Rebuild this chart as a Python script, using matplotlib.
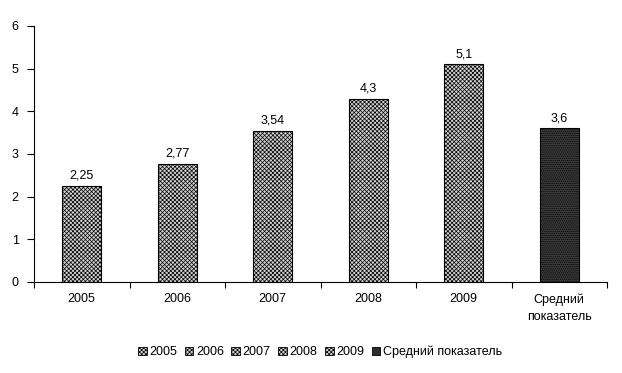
import matplotlib.pyplot as plt
import matplotlib.patches as patches

plt.rcParams['font.family'] = ['Liberation Sans', 'DejaVu Sans']
plt.rcParams['hatch.linewidth'] = 0.5

categories = ['2005', '2006', '2007', '2008', '2009', 'Средний\nпоказатель']
legend_labels = ['2005', '2006', '2007', '2008', '2009', 'Средний показатель']
values = [2.25, 2.77, 3.54, 4.3, 5.1, 3.6]
value_labels = ['2,25', '2,77', '3,54', '4,3', '5,1', '3,6']

fig = plt.figure(figsize=(6.22, 3.73), dpi=100)
ax = fig.add_axes([34/622, 1-282/373, 573/622, 256/373])

x = list(range(len(categories)))
handles = []
for i, v in enumerate(values):
    if i < 5:
        fc, hc, hatch = '#d2d2d2', '#707070', 'xxxxxxxx'
    else:
        fc, hc, hatch = '#3a3a3a', '#e0e0e0', '........'
    plt.rcParams['hatch.color'] = hc
    ax.bar(i, v, width=0.41, facecolor=fc, edgecolor='black', linewidth=0.8, hatch=hatch)
    ax.text(i, v + 0.1, value_labels[i], ha='center', va='bottom', fontsize=9)
    handles.append(patches.Patch(facecolor=fc, edgecolor='black', linewidth=0.6, hatch=hatch, label=legend_labels[i]))

ax.set_xlim(-0.5, len(categories) - 0.5)
ax.set_ylim(0, 6)
ax.set_yticks(range(7))
ax.set_xticks([i + 0.5 for i in range(-1, len(categories))], minor=False)
ax.set_xticklabels([''] * (len(categories) + 1))
ax.set_xticks(x, minor=True)
ax.set_xticklabels(categories, minor=True, fontsize=9, linespacing=1.6)
ax.tick_params(axis='x', which='minor', length=0, pad=8)
ax.tick_params(axis='x', which='major', direction='out', length=4, width=0.8)
ax.tick_params(axis='y', direction='out', length=5, width=0.8, labelsize=9, pad=6)
for s in ['top', 'right']:
    ax.spines[s].set_visible(False)
ax.spines['left'].set_linewidth(0.8)
ax.spines['bottom'].set_linewidth(0.8)

fig.legend(handles=handles, loc='center', bbox_to_anchor=(320/622, 1-352/373), ncol=6,
           frameon=False, fontsize=9, handlelength=0.7, handleheight=0.7,
           handletextpad=0.2, columnspacing=0.6)

fig.savefig('out.png', dpi=100)
